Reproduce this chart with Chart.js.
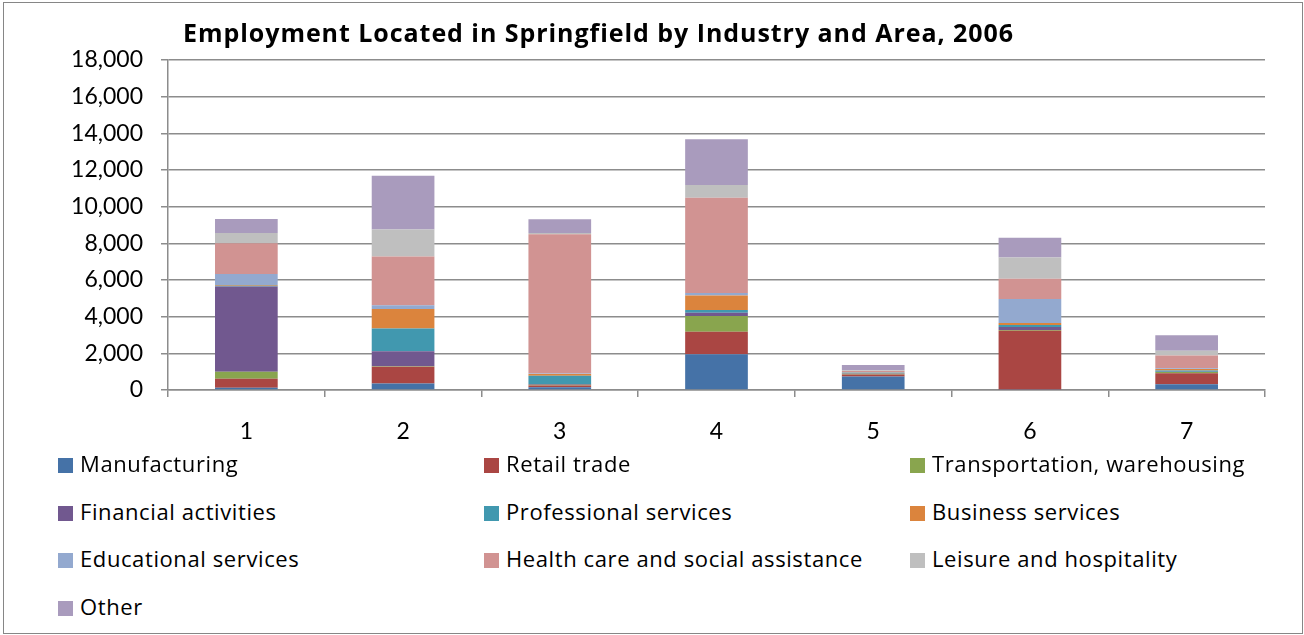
<!DOCTYPE html>
<html>
<head>
<meta charset="utf-8">
<script src="https://cdn.jsdelivr.net/npm/chart.js@4"></script>
<style>
  body { margin: 0; background: #fff; font-family: 'Open Sans', Lato, sans-serif; }
  #frame { position: absolute; left: 3px; top: 2px; width: 1298px; height: 630px; border: 1px solid #868686; }
  #wrap { position: absolute; left: 0; top: 0; width: 1304px; height: 460px; }
  #title { position: absolute; left: 183px; top: 15px; font-weight: bold; font-size: 25px; letter-spacing: 0.95px; color: #000; white-space: nowrap; }
  .item { position: absolute; font-size: 22px; letter-spacing: 0.6px; color: #000; white-space: nowrap; line-height: 26px; }
  .box { display: inline-block; width: 15px; height: 15px; margin-right: 7px; vertical-align: -1px; }
</style>
</head>
<body>
<div id="frame"></div>
<div id="wrap"><canvas id="chart"></canvas></div>
<div id="title">Employment Located in Springfield by Industry and Area, 2006</div>
<div id="legend"></div>
<script>
const areas = ['1', '2', '3', '4', '5', '6', '7']

const manufacturing = [120, 350, 150, 1950, 730, 30, 310]
const retailTrade = [500, 920, 100, 1230, 110, 3200, 600]
const transportation = [380, 20, 40, 860, 40, 40, 70]
const financial = [4640, 820, 40, 180, 30, 160, 20]
const professional = [50, 1240, 450, 140, 30, 110, 60]
const business = [40, 1070, 90, 800, 20, 110, 90]
const educational = [600, 200, 30, 130, 20, 1310, 30]
const healthCare = [1670, 2660, 7600, 5200, 60, 1110, 700]
const leisure = [560, 1470, 70, 690, 40, 1160, 260]
const other = [770, 2940, 750, 2500, 280, 1070, 850]

const seriesNames = ['Manufacturing', 'Retail trade', 'Transportation, warehousing',
  'Financial activities', 'Professional services', 'Business services',
  'Educational services', 'Health care and social assistance', 'Leisure and hospitality', 'Other']
const seriesValues = [manufacturing, retailTrade, transportation, financial, professional,
  business, educational, healthCare, leisure, other]
const seriesColors = ['#4572A7', '#AA4643', '#89A54E', '#71588F', '#4198AF',
  '#DB843D', '#93A9CF', '#D19392', '#BFBFBF', '#A99BBD']

const gridColor = '#8c8c8c'
const tickFont = { family: 'Lato', size: 23 }

const datasets = seriesNames.map((name, i) => ({
  label: name,
  data: seriesValues[i],
  backgroundColor: seriesColors[i],
  borderWidth: 0,
  categoryPercentage: 1,
  barPercentage: 0.4
}))

const chart = new Chart(document.getElementById('chart'), {
  type: 'bar',
  data: { labels: areas, datasets: datasets },
  options: {
    responsive: true,
    maintainAspectRatio: false,
    animation: false,
    layout: { padding: { top: 60, right: 39, bottom: 0, left: 0 } },
    scales: {
      x: {
        stacked: true,
        afterFit: s => { s.height = 70 },
        border: { color: gridColor, width: 1.5 },
        grid: { offset: true, drawOnChartArea: false, color: gridColor, tickLength: 7, lineWidth: 1.5 },
        ticks: { color: '#000', font: tickFont, padding: 21 }
      },
      y: {
        stacked: true,
        min: 0,
        max: 18000,
        afterFit: s => { s.width = 168 },
        border: { color: gridColor, width: 1.5 },
        grid: { color: gridColor, tickLength: 7, lineWidth: 1.5 },
        ticks: {
          stepSize: 2000,
          color: '#000',
          font: tickFont,
          padding: 18,
          callback: v => v.toLocaleString('en-US')
        }
      }
    },
    plugins: {
      legend: { display: false },
      title: { display: false },
      tooltip: { enabled: false }
    }
  }
})

// legend laid out in three columns like the original
const legend = document.getElementById('legend')
const colX = [58, 484, 910]
const rowY = [450, 498, 545, 593]
seriesNames.forEach((name, i) => {
  const el = document.createElement('div')
  el.className = 'item'
  el.style.left = colX[i % 3] + 'px'
  el.style.top = rowY[Math.floor(i / 3)] + 'px'
  el.innerHTML = '<span class="box" style="background:' + seriesColors[i] + '"></span>'
  el.appendChild(document.createTextNode(name))
  legend.appendChild(el)
})
</script>
</body>
</html>
